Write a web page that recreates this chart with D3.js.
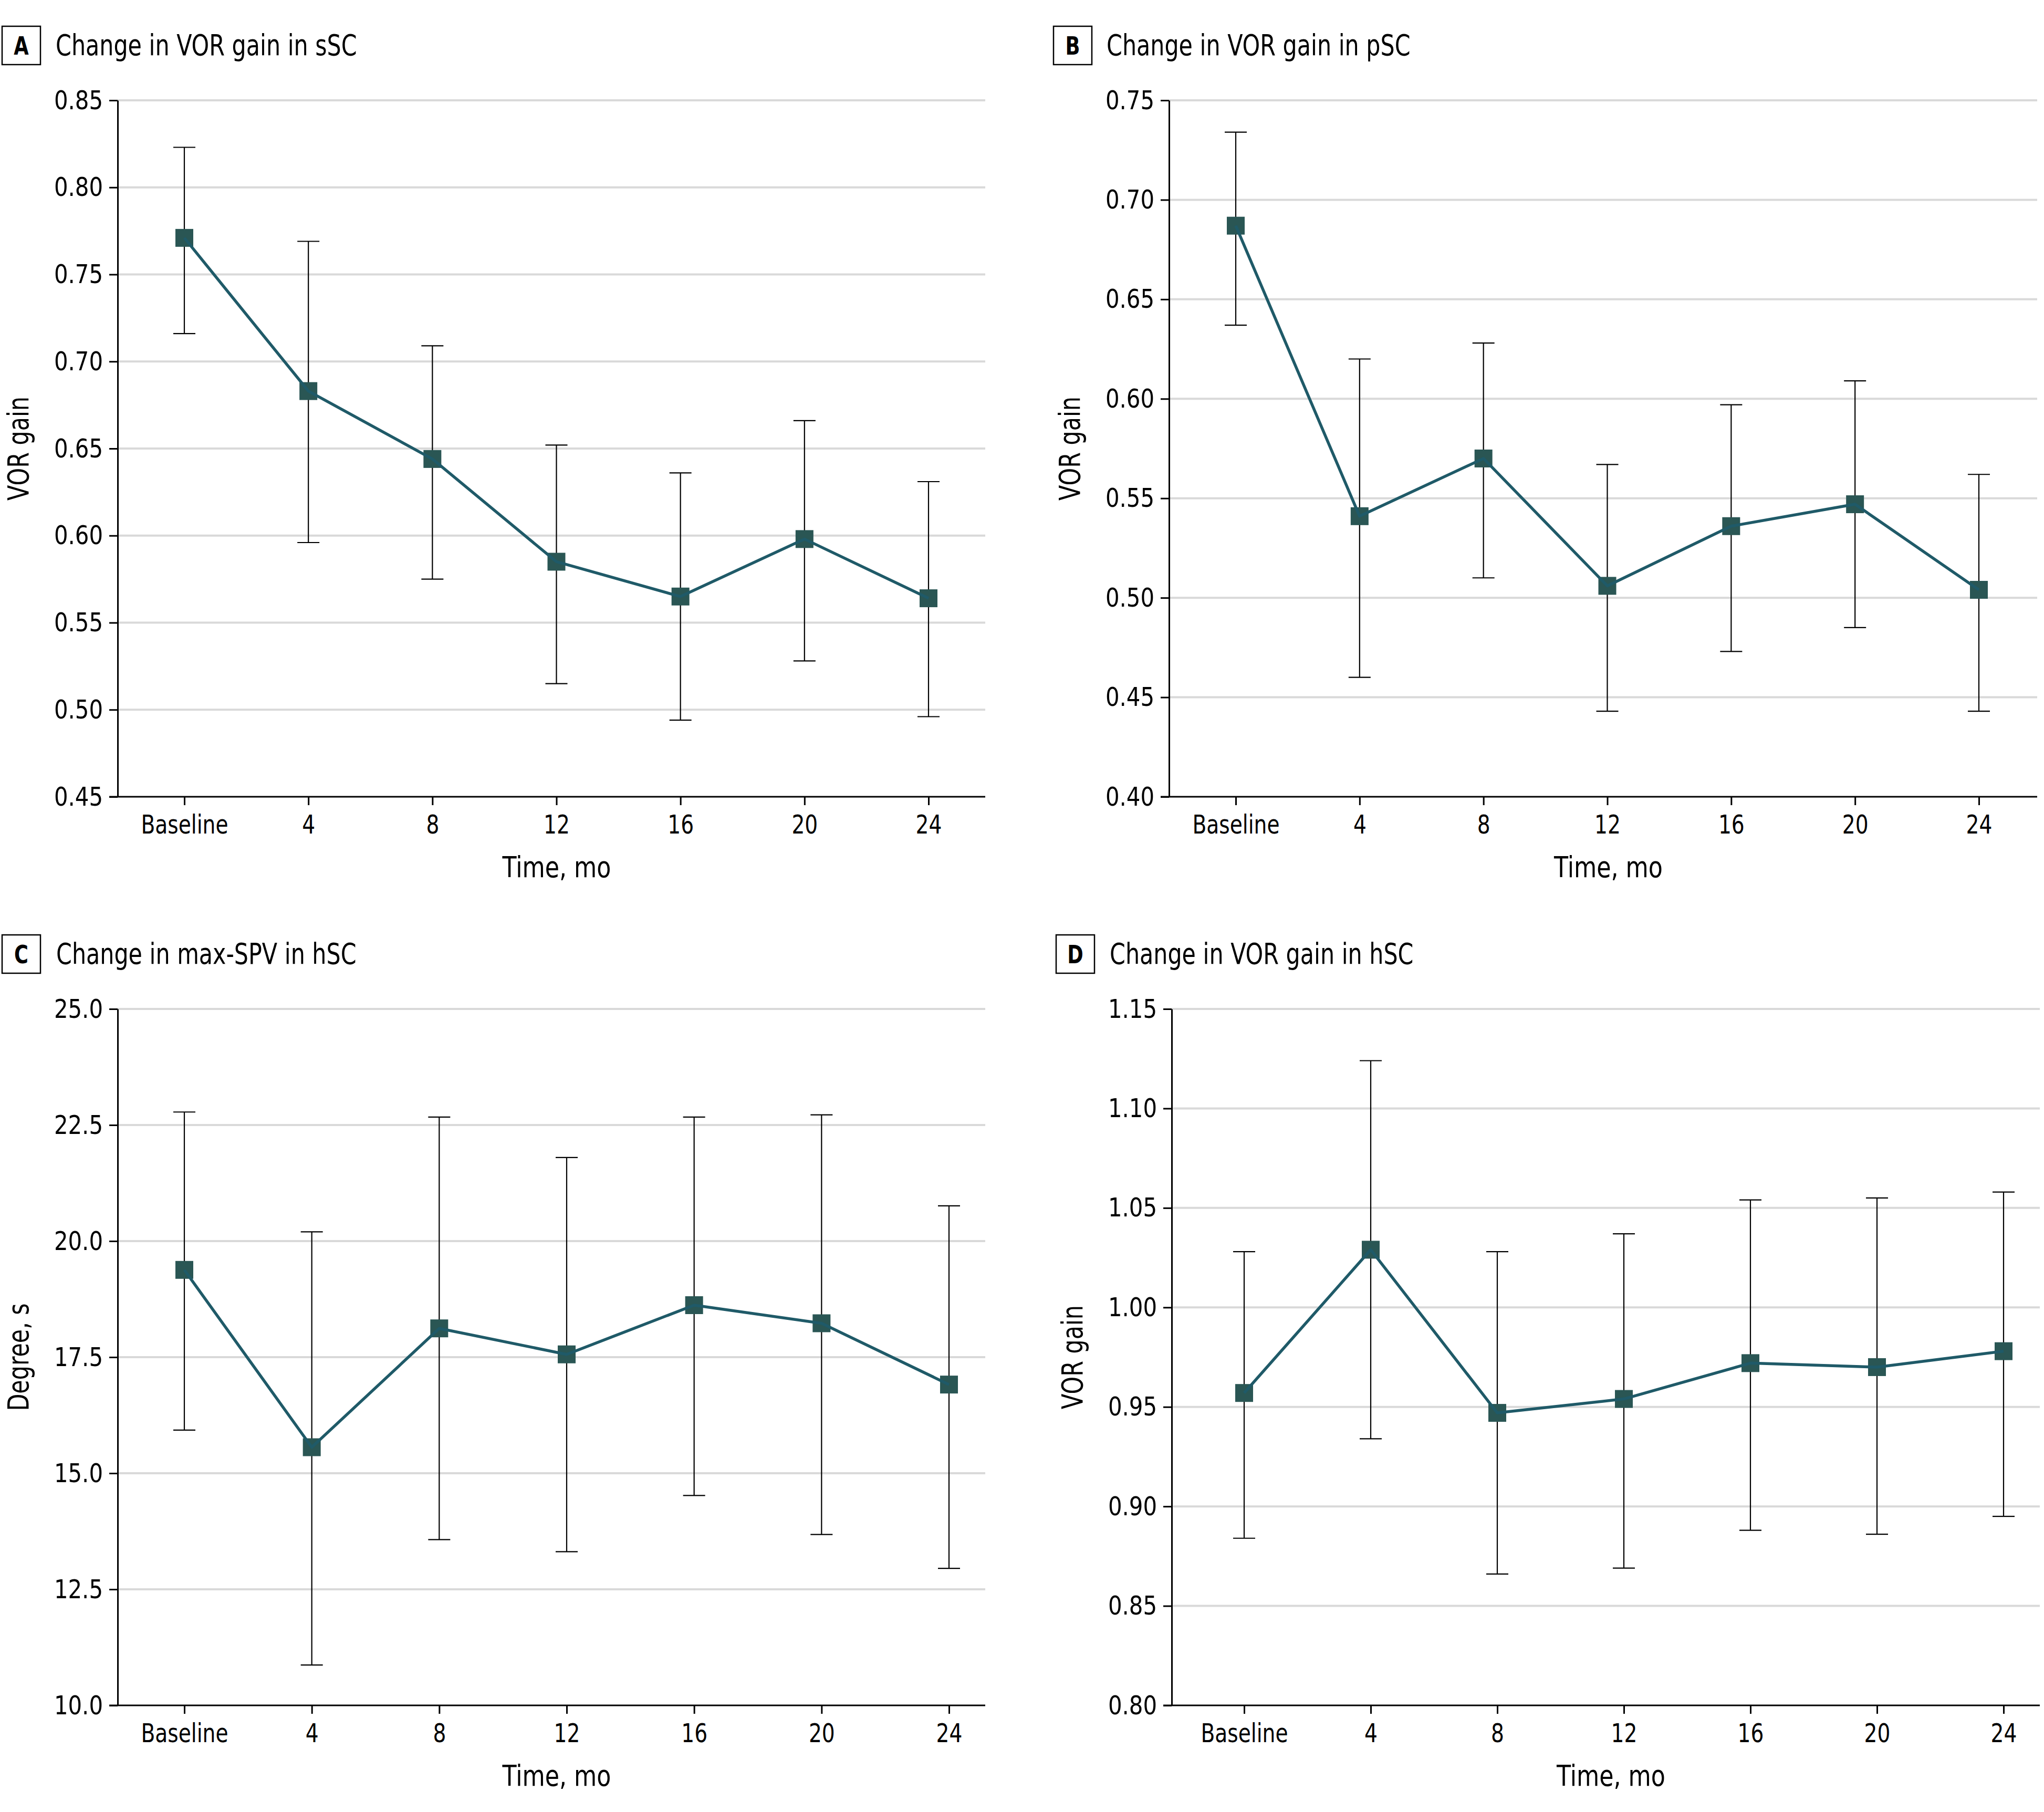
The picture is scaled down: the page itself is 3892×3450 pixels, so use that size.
<!DOCTYPE html>
<html><head><meta charset="utf-8">
<script src="https://cdn.jsdelivr.net/npm/d3@7"></script>
<style>
html,body{margin:0;padding:0;background:#fff;}
svg text{font-family:"Liberation Sans Narrow","Arial Narrow","DejaVu Sans Condensed",sans-serif;font-stretch:condensed;fill:#000;}
</style></head><body>
<svg id="chart" width="3892" height="3450"></svg>
<script>
const categories = ["Baseline", "4", "8", "12", "16", "20", "24"];

// Panel A – VOR gain in sSC
const aMean = [0.771, 0.683, 0.644, 0.585, 0.565, 0.598, 0.564];
const aLow  = [0.716, 0.596, 0.575, 0.515, 0.494, 0.528, 0.496];
const aHigh = [0.823, 0.769, 0.709, 0.652, 0.636, 0.666, 0.631];
const aTicks = [0.45, 0.50, 0.55, 0.60, 0.65, 0.70, 0.75, 0.80, 0.85];

// Panel B – VOR gain in pSC
const bMean = [0.687, 0.541, 0.570, 0.506, 0.536, 0.547, 0.504];
const bLow  = [0.637, 0.460, 0.510, 0.443, 0.473, 0.485, 0.443];
const bHigh = [0.734, 0.620, 0.628, 0.567, 0.597, 0.609, 0.562];
const bTicks = [0.40, 0.45, 0.50, 0.55, 0.60, 0.65, 0.70, 0.75];

// Panel C – max-SPV in hSC
const cMean = [19.38, 15.56, 18.12, 17.56, 18.62, 18.23, 16.91];
const cLow  = [15.93, 10.87, 13.57, 13.31, 14.52, 13.68, 12.95];
const cHigh = [22.78, 20.20, 22.67, 21.80, 22.67, 22.72, 20.76];
const cTicks = [10.0, 12.5, 15.0, 17.5, 20.0, 22.5, 25.0];

// Panel D – VOR gain in hSC
const dMean = [0.957, 1.029, 0.947, 0.954, 0.972, 0.970, 0.978];
const dLow  = [0.884, 0.934, 0.866, 0.869, 0.888, 0.886, 0.895];
const dHigh = [1.028, 1.124, 1.028, 1.037, 1.054, 1.055, 1.058];
const dTicks = [0.80, 0.85, 0.90, 0.95, 1.00, 1.05, 1.10, 1.15];

const panels = [
  {letter:"A", title:"Change in VOR gain in sSC", yLabel:"VOR gain", mean:aMean, lo:aLow, hi:aHigh, ticks:aTicks, fmt:".2f",
   x0:224, x1:1876, p0:351, p1:1768, yTop:191, yBottom:1517, boxX:4, titleX:106},
  {letter:"B", title:"Change in VOR gain in pSC", yLabel:"VOR gain", mean:bMean, lo:bLow, hi:bHigh, ticks:bTicks, fmt:".2f",
   x0:2226, x1:3879, p0:2353, p1:3768, yTop:191, yBottom:1517, boxX:2006, titleX:2107},
  {letter:"C", title:"Change in max-SPV in hSC", yLabel:"Degree, s", mean:cMean, lo:cLow, hi:cHigh, ticks:cTicks, fmt:".1f",
   x0:224, x1:1876, p0:351, p1:1807, yTop:1921, yBottom:3247, boxX:4, titleX:107},
  {letter:"D", title:"Change in VOR gain in hSC", yLabel:"VOR gain", mean:dMean, lo:dLow, hi:dHigh, ticks:dTicks, fmt:".2f",
   x0:2231, x1:3884, p0:2369, p1:3815, yTop:1921, yBottom:3247, boxX:2011, titleX:2113}
];

const LINE = "#1f5a68", MARK = "#2a5654";
const svg = d3.select("#chart");

// horizontally condense text about its own x anchor
function condense(sel, k) {
  sel.each(function() {
    const t = d3.select(this);
    const x = +t.attr("x") || 0;
    const prev = t.attr("transform") || "";
    t.attr("transform", `${prev} translate(${x},0) scale(${k},1) translate(${-x},0)`);
  });
}

panels.forEach(p => {
  const g = svg.append("g");
  const x = d3.scalePoint().domain(categories).range([p.p0, p.p1]);
  const y = d3.scaleLinear().domain([p.ticks[0], p.ticks[p.ticks.length-1]]).range([p.yBottom, p.yTop]);

  // gridlines
  g.append("g").selectAll("line").data(p.ticks.slice(1)).join("line")
    .attr("x1", p.x0).attr("x2", p.x1)
    .attr("y1", d => y(d)).attr("y2", d => y(d))
    .attr("stroke", "#d9d9d9").attr("stroke-width", 4);

  // y axis
  const ya = g.append("g").attr("transform", `translate(${p.x0},0)`)
    .call(d3.axisLeft(y).tickValues(p.ticks).tickFormat(d3.format(p.fmt)).tickSize(16).tickSizeOuter(0).tickPadding(12));
  ya.selectAll("path,line").attr("stroke", "#000").attr("stroke-width", 3);
  ya.selectAll("text").attr("font-size", 50).attr("fill", "#000").call(condense, 0.93);

  // x axis
  const xa = g.append("g").attr("transform", `translate(0,${p.yBottom})`)
    .call(d3.axisBottom(x).tickSize(16).tickSizeOuter(0).tickPadding(19));
  xa.select(".domain").remove();
  xa.selectAll("line").attr("stroke", "#000").attr("stroke-width", 3);
  xa.selectAll("text").attr("font-size", 50).attr("fill", "#000").call(condense, 0.87);
  g.append("line").attr("x1", p.x0 - 16).attr("x2", p.x1)
    .attr("y1", p.yBottom).attr("y2", p.yBottom)
    .attr("stroke", "#000").attr("stroke-width", 3);

  const pts = categories.map((c, i) => ({c, m: p.mean[i], lo: p.lo[i], hi: p.hi[i]}));

  // error bars
  const eb = g.append("g").attr("stroke", "#000").attr("stroke-width", 2.2);
  eb.selectAll("line.v").data(pts).join("line").attr("class", "v")
    .attr("x1", d => x(d.c)).attr("x2", d => x(d.c))
    .attr("y1", d => y(d.lo)).attr("y2", d => y(d.hi));
  eb.selectAll("line.t").data(pts).join("line").attr("class", "t")
    .attr("x1", d => x(d.c) - 21).attr("x2", d => x(d.c) + 21)
    .attr("y1", d => y(d.hi)).attr("y2", d => y(d.hi));
  eb.selectAll("line.b").data(pts).join("line").attr("class", "b")
    .attr("x1", d => x(d.c) - 21).attr("x2", d => x(d.c) + 21)
    .attr("y1", d => y(d.lo)).attr("y2", d => y(d.lo));

  // markers
  g.append("g").selectAll("rect").data(pts).join("rect")
    .attr("x", d => x(d.c) - 17).attr("y", d => y(d.m) - 17)
    .attr("width", 34).attr("height", 34).attr("fill", MARK);

  // line
  g.append("path").datum(pts)
    .attr("d", d3.line().x(d => x(d.c)).y(d => y(d.m)))
    .attr("fill", "none").attr("stroke", LINE).attr("stroke-width", 5.5)
    .attr("stroke-linejoin", "round");

  // axis titles
  g.append("text").attr("x", (p.x0 + p.x1) / 2 + 10).attr("y", p.yBottom + 153)
    .attr("text-anchor", "middle").attr("font-size", 56).text("Time, mo")
    .call(condense, 0.88);
  g.append("text")
    .attr("transform", `translate(${p.x0 - 189},${(p.yTop + p.yBottom) / 2}) rotate(-90)`)
    .attr("text-anchor", "middle").attr("dominant-baseline", "central")
    .attr("font-size", 56).text(p.yLabel)
    .call(condense, 0.85);

  // panel label box + title
  const by = p.yTop - 141;
  g.append("rect").attr("x", p.boxX).attr("y", by).attr("width", 73).attr("height", 73)
    .attr("fill", "none").attr("stroke", "#000").attr("stroke-width", 2.5);
  g.append("text").attr("x", p.boxX + 36.5).attr("y", by + 38)
    .attr("text-anchor", "middle").attr("dominant-baseline", "central")
    .attr("font-size", 48).attr("font-weight", "bold").text(p.letter)
    .call(condense, 0.85);
  g.append("text").attr("x", p.titleX).attr("y", p.yTop - 86)
    .attr("font-size", 56).text(p.title)
    .call(condense, 0.85);
});
</script>
</body></html>
